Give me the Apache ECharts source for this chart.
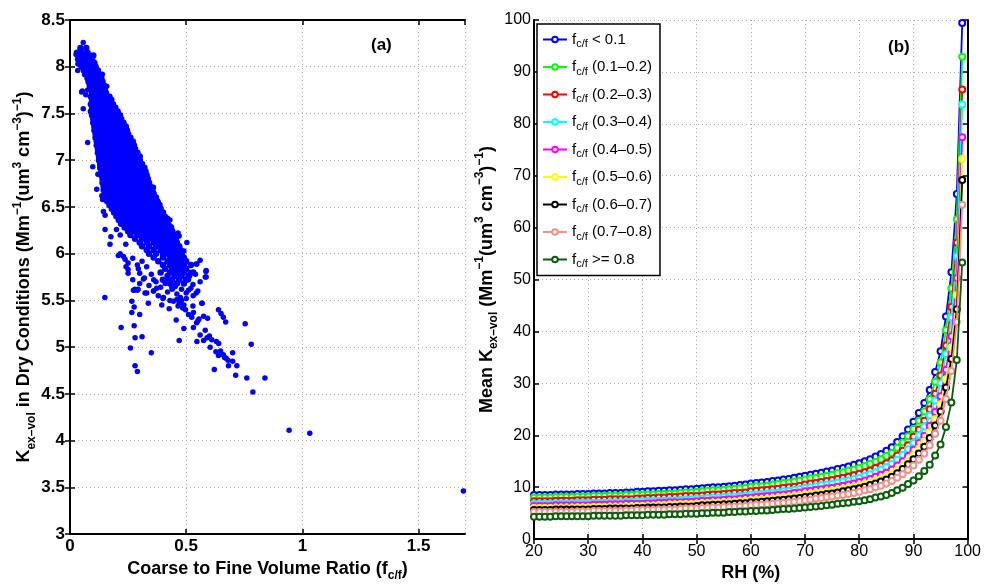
<!DOCTYPE html>
<html><head><meta charset="utf-8">
<script src="https://cdn.jsdelivr.net/npm/echarts@6/dist/echarts.min.js"></script>
<style>html,body{margin:0;padding:0;background:#fff}#c{width:984px;height:587px}</style>
</head><body><div id="c"></div>
<script>
// ---------- Panel (b) data ----------
const rh = [20,21,22,23,24,25,26,27,28,29,30,31,32,33,34,35,36,37,38,39,
  40,41,42,43,44,45,46,47,48,49,50,51,52,53,54,55,56,57,58,59,
  60,61,62,63,64,65,66,67,68,69,70,71,72,73,74,75,76,77,78,79,
  80,81,82,83,84,85,86,87,88,89,90,91,92,93,94,95,96,97,98,99];
const kLt01 = [8.5,8.5,8.5,8.5,8.6,8.6,8.6,8.6,8.7,8.7, 8.7,8.8,8.8,8.8,8.9,8.9,8.9,9.0,9.0,9.1,
  9.1,9.2,9.2,9.3,9.3,9.4,9.4,9.5,9.6,9.6, 9.7,9.8,9.9,10.0,10.0,10.1,10.2,10.3,10.4,10.5,
  10.7,10.8,10.9,11.0,11.2,11.3,11.5,11.6,11.8,12.0, 12.2,12.4,12.6,12.8,13.0,13.2,13.5,13.7,14.0,14.3,
  14.6,15.0,15.4,15.9,16.4,17.0,17.7,18.7,19.8,21.1, 22.6,24.3,26.2,28.7,32.2,36.2,42.9,51.4,66.5,99.4];
const k01_02 = [8.0,8.0,8.0,8.0,8.1,8.1,8.1,8.1,8.2,8.2, 8.2,8.3,8.3,8.3,8.4,8.4,8.4,8.5,8.5,8.6,
  8.6,8.6,8.6,8.7,8.7,8.8,8.8,8.9,9.0,9.0, 9.1,9.2,9.3,9.4,9.4,9.5,9.6,9.7,9.8,9.9,
  10.1,10.2,10.2,10.3,10.5,10.6,10.8,10.9,11.1,11.3, 11.5,11.7,11.8,12.0,12.2,12.4,12.7,12.9,13.2,13.4,
  13.7,14.1,14.5,14.9,15.4,16.0,16.6,17.6,18.6,19.8, 21.2,22.8,24.6,27.0,30.3,34.0,40.3,48.3,61.6,92.9];
const k02_03 = [7.3,7.3,7.3,7.3,7.4,7.4,7.4,7.4,7.5,7.5, 7.5,7.6,7.6,7.6,7.7,7.7,7.7,7.7,7.7,7.8,
  7.8,7.9,7.9,8.0,8.0,8.1,8.1,8.2,8.3,8.3, 8.3,8.4,8.5,8.6,8.6,8.7,8.8,8.9,8.9,9.0,
  9.2,9.3,9.4,9.5,9.6,9.7,9.9,10.0,10.1,10.3, 10.5,10.7,10.8,11.0,11.2,11.4,11.6,11.8,12.0,12.3,
  12.6,12.9,13.2,13.7,14.1,14.6,15.2,16.1,17.0,18.1, 19.7,21.1,22.8,25.0,28.0,31.5,37.3,44.7,57.1,86.6];
const k03_04 = [6.8,6.8,6.8,6.8,6.9,6.9,6.9,6.9,7.0,7.0, 7.0,7.0,7.0,7.0,7.1,7.1,7.1,7.2,7.2,7.3,
  7.3,7.4,7.4,7.4,7.4,7.5,7.5,7.6,7.7,7.7, 7.8,7.8,7.9,8.0,8.0,8.1,8.2,8.2,8.3,8.4,
  8.6,8.6,8.7,8.8,9.0,9.0,9.2,9.3,9.5,9.7, 9.9,10.0,10.2,10.4,10.5,10.7,10.9,11.1,11.3,11.6,
  11.8,12.2,12.5,12.9,13.4,13.9,14.5,15.3,16.2,17.3, 18.5,20.0,21.7,23.8,26.7,30.0,35.6,42.7,54.5,83.7];
const k04_05 = [6.4,6.4,6.4,6.4,6.5,6.5,6.5,6.5,6.5,6.5, 6.5,6.6,6.6,6.6,6.7,6.7,6.7,6.8,6.8,6.8,
  6.8,6.9,6.9,7.0,7.0,7.1,7.1,7.1,7.2,7.2, 7.3,7.4,7.4,7.5,7.5,7.6,7.7,7.7,7.8,7.9,
  8.0,8.1,8.2,8.3,8.4,8.5,8.6,8.7,8.9,9.0, 9.2,9.3,9.5,9.6,9.8,9.9,10.1,10.3,10.5,10.7,
  11.0,11.3,11.6,12.0,12.4,12.8,13.4,14.2,15.0,16.0, 17.2,18.5,19.9,21.8,24.5,27.5,32.6,39.1,50.3,77.4];
const k05_06 = [6.0,6.0,6.0,6.0,6.0,6.0,6.0,6.0,6.1,6.1, 6.1,6.2,6.2,6.2,6.2,6.2,6.2,6.3,6.3,6.4,
  6.4,6.4,6.4,6.5,6.5,6.6,6.6,6.7,6.7,6.7, 6.8,6.9,6.9,7.0,7.0,7.1,7.1,7.2,7.3,7.4,
  7.5,7.6,7.6,7.7,7.8,7.9,8.1,8.1,8.3,8.4, 8.6,8.7,8.9,9.0,9.2,9.3,9.5,9.7,9.9,10.1,
  10.3,10.6,10.9,11.3,11.6,12.1,12.6,13.3,14.1,15.1, 16.2,17.4,18.8,20.6,23.1,26.0,30.8,36.9,47.0,73.2];
const k06_07 = [5.6,5.6,5.6,5.6,5.7,5.7,5.7,5.7,5.7,5.7, 5.7,5.8,5.8,5.8,5.9,5.9,5.9,5.9,5.9,6.0,
  6.0,6.1,6.1,6.1,6.1,6.2,6.2,6.3,6.3,6.3, 6.4,6.5,6.5,6.6,6.6,6.7,6.7,6.8,6.9,6.9,
  7.1,7.1,7.2,7.3,7.4,7.5,7.6,7.7,7.8,7.9, 8.1,8.2,8.4,8.5,8.7,8.8,9.0,9.2,9.4,9.6,
  9.8,10.1,10.4,10.7,11.1,11.5,12.0,12.7,13.5,14.4, 15.4,16.5,17.8,19.5,21.9,24.6,29.2,34.7,44.3,69.2];
const k07_08 = [5.2,5.2,5.2,5.2,5.2,5.2,5.2,5.2,5.3,5.3, 5.3,5.4,5.4,5.4,5.4,5.4,5.4,5.5,5.5,5.6,
  5.6,5.6,5.6,5.7,5.7,5.7,5.7,5.8,5.9,5.9, 5.9,6.0,6.0,6.1,6.1,6.2,6.2,6.3,6.3,6.4,
  6.5,6.6,6.6,6.7,6.8,6.9,7.0,7.1,7.2,7.3, 7.5,7.6,7.8,7.9,8.1,8.2,8.4,8.5,8.7,8.9,
  9.1,9.4,9.6,10.0,10.3,10.7,11.2,11.8,12.5,13.3, 14.2,15.3,16.5,18.1,20.3,22.8,27.0,32.4,41.8,64.4];
const kGe08 = [4.3,4.3,4.3,4.3,4.4,4.4,4.4,4.4,4.4,4.4, 4.4,4.5,4.5,4.5,4.5,4.5,4.5,4.6,4.6,4.6,
  4.6,4.7,4.7,4.7,4.7,4.8,4.8,4.8,4.9,4.9, 4.9,5.0,5.0,5.1,5.1,5.1,5.2,5.2,5.3,5.3,
  5.4,5.4,5.5,5.5,5.6,5.7,5.8,5.8,5.9,6.0, 6.1,6.2,6.3,6.4,6.5,6.6,6.8,6.9,7.0,7.2,
  7.3,7.5,7.7,8.0,8.2,8.5,8.9,9.4,9.9,10.6, 11.3,12.1,13.1,14.3,16.1,18.2,21.6,26.3,34.5,53.3];
const groupLabels = ['< 0.1','(0.1–0.2)','(0.2–0.3)','(0.3–0.4)','(0.4–0.5)','(0.5–0.6)','(0.6–0.7)','(0.7–0.8)','>= 0.8'];
const groupValues = [kLt01,k01_02,k02_03,k03_04,k04_05,k05_06,k06_07,k07_08,kGe08];

// ---------- Panel (a) data ----------
// dense core: [y, x, x, ...]
const coreRows = [
[8.20,0.045,0.07],
[8.15,0.03,0.05,0.075],
[8.12,0.04,0.06,0.085,0.10],
[8.08,0.035,0.055,0.075,0.095],
[8.04,0.045,0.065,0.085,0.105],
[8.00,0.05,0.07,0.09,0.11],
[7.96,0.06,0.08,0.10,0.12],
[7.92,0.065,0.085,0.105,0.125],
[7.88,0.075,0.095,0.115,0.135],
[7.84,0.08,0.10,0.12,0.14],
[7.80,0.085,0.105,0.125,0.145],
[7.76,0.09,0.11,0.13,0.15],
[7.72,0.095,0.115,0.135,0.155],
[7.68,0.09,0.11,0.13,0.15,0.17],
[7.64,0.095,0.115,0.135,0.155,0.175],
[7.60,0.09,0.11,0.13,0.15,0.17,0.185],
[7.56,0.095,0.115,0.135,0.155,0.175,0.195],
[7.52,0.09,0.11,0.13,0.15,0.17,0.19,0.205],
[7.48,0.095,0.115,0.135,0.155,0.175,0.195,0.215],
[7.44,0.10,0.12,0.14,0.16,0.18,0.20,0.22],
[7.40,0.10,0.12,0.14,0.16,0.18,0.20,0.22,0.23],
[7.36,0.105,0.125,0.145,0.165,0.185,0.205,0.225,0.24],
[7.32,0.105,0.125,0.145,0.165,0.185,0.205,0.225,0.245],
[7.28,0.11,0.13,0.15,0.17,0.19,0.21,0.23,0.25],
[7.24,0.11,0.13,0.15,0.17,0.19,0.21,0.23,0.25,0.26],
[7.20,0.115,0.135,0.155,0.175,0.195,0.215,0.235,0.255,0.27],
[7.16,0.115,0.135,0.155,0.175,0.195,0.215,0.235,0.255,0.275],
[7.12,0.12,0.14,0.16,0.18,0.20,0.22,0.24,0.26,0.28],
[7.08,0.12,0.14,0.16,0.18,0.20,0.22,0.24,0.26,0.28,0.29],
[7.04,0.125,0.145,0.165,0.185,0.205,0.225,0.245,0.265,0.285,0.30],
[7.00,0.125,0.145,0.165,0.185,0.205,0.225,0.245,0.265,0.285,0.30],
[6.96,0.13,0.15,0.17,0.19,0.21,0.23,0.25,0.27,0.29,0.31],
[6.92,0.13,0.15,0.17,0.19,0.21,0.23,0.25,0.27,0.29,0.31,0.32],
[6.88,0.135,0.155,0.175,0.195,0.215,0.235,0.255,0.275,0.295,0.315,0.325],
[6.84,0.135,0.155,0.175,0.195,0.215,0.235,0.255,0.275,0.295,0.315,0.33],
[6.80,0.14,0.16,0.18,0.20,0.22,0.24,0.26,0.28,0.30,0.32,0.335],
[6.76,0.14,0.16,0.18,0.20,0.22,0.24,0.26,0.28,0.30,0.32,0.34],
[6.72,0.145,0.165,0.185,0.205,0.225,0.245,0.265,0.285,0.305,0.325,0.345],
[6.68,0.145,0.165,0.185,0.205,0.225,0.245,0.265,0.285,0.305,0.325,0.345,0.355],
[6.64,0.15,0.17,0.19,0.21,0.23,0.25,0.27,0.29,0.31,0.33,0.35,0.36],
[6.60,0.155,0.175,0.195,0.215,0.235,0.255,0.275,0.295,0.315,0.335,0.355,0.37],
[6.56,0.16,0.18,0.20,0.22,0.24,0.26,0.28,0.30,0.32,0.34,0.36,0.375],
[6.52,0.17,0.19,0.21,0.23,0.25,0.27,0.29,0.31,0.33,0.35,0.37,0.385],
[6.48,0.18,0.20,0.22,0.24,0.26,0.28,0.30,0.32,0.34,0.36,0.38,0.39],
[6.44,0.19,0.21,0.23,0.25,0.27,0.29,0.31,0.33,0.35,0.37,0.39,0.40],
[6.40,0.20,0.22,0.24,0.26,0.28,0.30,0.32,0.34,0.36,0.38,0.40],
[6.36,0.21,0.235,0.255,0.275,0.295,0.315,0.335,0.355,0.375,0.395,0.415],
[6.32,0.22,0.245,0.265,0.285,0.305,0.325,0.345,0.365,0.385,0.405,0.42],
[6.28,0.235,0.26,0.28,0.30,0.32,0.34,0.36,0.38,0.40,0.42,0.435],
[6.24,0.25,0.275,0.30,0.32,0.34,0.36,0.38,0.40,0.42,0.44],
[6.20,0.26,0.29,0.31,0.33,0.35,0.37,0.39,0.41,0.43,0.45],
[6.16,0.28,0.31,0.33,0.35,0.37,0.39,0.41,0.43,0.455],
[6.12,0.30,0.33,0.36,0.38,0.40,0.42,0.44,0.46],
[6.08,0.31,0.34,0.37,0.39,0.41,0.43,0.45,0.47],
[6.04,0.33,0.36,0.39,0.41,0.43,0.45,0.475],
[6.00,0.34,0.37,0.40,0.42,0.44,0.46,0.48],
[5.96,0.36,0.40,0.43,0.45,0.47,0.49],
[5.92,0.38,0.42,0.44,0.46,0.48,0.50],
[5.88,0.40,0.43,0.45,0.47,0.49,0.52],
[5.84,0.41,0.44,0.46,0.48,0.50],
[5.80,0.39,0.43,0.45,0.47,0.49,0.53],
[5.76,0.42,0.45,0.48,0.51],
[5.72,0.40,0.44,0.47,0.50],
[5.68,0.43,0.46,0.49]
];
// scattered points: [x, y]
const sparsePts = [
[0.057,8.26],[0.026,8.13],[0.034,8.03],[0.033,7.96],[0.139,7.92],[0.158,7.79],[0.053,7.74],[0.076,7.75],
[0.068,7.70],[0.05,7.73],[0.057,7.55],[0.076,7.19],[0.18,7.65],[0.194,7.56],[0.098,6.93],[0.115,6.69],
[0.12,6.85],[0.14,6.58],[0.144,6.45],[0.151,6.26],[0.137,6.62],[0.151,6.41],[0.172,6.10],[0.176,6.18],
[0.20,6.26],[0.216,6.20],[0.24,6.10],[0.216,6.00],[0.208,5.98],[0.237,5.94],[0.241,5.86],[0.25,5.83],
[0.294,5.84],[0.316,5.73],[0.36,5.72],[0.417,5.73],[0.474,5.77],[0.517,5.80],[0.546,5.89],[0.56,5.93],
[0.586,5.82],[0.582,5.75],[0.273,5.61],[0.29,5.61],
[0.30,6.93],[0.32,6.87],[0.359,6.71],[0.345,6.71],[0.374,6.55],[0.38,6.55],[0.36,6.57],[0.385,6.40],
[0.41,6.40],[0.43,6.36],[0.42,6.38],[0.43,6.30],[0.465,6.22],[0.47,6.19],[0.503,6.12],[0.49,6.03],
[0.585,5.81],[0.309,6.94],
[0.23,5.97],[0.25,5.90],[0.27,5.95],[0.29,5.88],[0.31,5.92],[0.33,5.86],[0.30,5.79],[0.32,5.74],
[0.35,5.78],[0.37,5.70],[0.34,5.66],[0.39,5.64],[0.41,5.68],[0.36,5.60],[0.30,5.68],[0.27,5.72],
[0.25,5.79],[0.28,5.62],[0.33,5.58],[0.38,5.55],[0.42,5.59],[0.44,5.62],[0.46,5.57],[0.45,5.66],
[0.48,5.62],[0.50,5.58],[0.52,5.63],[0.53,5.55],[0.55,5.60],[0.56,5.70],[0.54,5.78],[0.51,5.72],
[0.40,5.52],[0.43,5.50],[0.543,5.89],[0.586,5.75],[0.515,5.76],[0.529,5.67],[0.51,5.61],[0.543,5.58],
[0.15,5.53],[0.22,5.21],[0.26,4.99],[0.28,4.80],[0.29,4.74],[0.35,4.94],[0.47,5.07],[0.49,5.20],
[0.457,5.29],[0.28,5.10],[0.31,5.11],[0.30,5.35],[0.276,5.23],[0.266,5.37],[0.276,5.43],[0.266,5.49],
[0.276,5.61],[0.293,5.62],[0.323,5.58],[0.337,5.47],[0.359,5.60],[0.373,5.63],[0.402,5.53],[0.395,5.45],
[0.427,5.41],[0.438,5.64],[0.453,5.65],[0.445,5.49],
[0.47,5.47],[0.48,5.50],[0.49,5.45],[0.475,5.53],[0.465,5.44],[0.485,5.42],[0.50,5.52],[0.46,5.51],
[0.497,5.40],[0.51,5.35],[0.524,5.32],[0.531,5.21],[0.55,5.28],[0.555,5.30],[0.545,5.26],[0.529,5.44],
[0.531,5.37],[0.569,5.47],[0.575,5.33],[0.592,5.31],[0.567,5.47],
[0.546,5.06],[0.56,5.13],[0.582,5.18],[0.575,5.07],[0.59,5.10],[0.60,5.12],[0.61,5.08],[0.603,5.00],
[0.63,5.06],[0.64,5.04],[0.628,4.95],[0.639,4.91],[0.648,4.96],[0.66,4.92],[0.665,4.89],[0.672,4.88],
[0.68,4.86],[0.682,4.80],[0.70,4.85],[0.70,4.94],[0.718,4.80],[0.713,4.70],[0.761,4.67],[0.787,4.52],
[0.839,4.67],[0.754,5.25],[0.78,5.03],[0.621,4.76],[0.639,5.40],[0.65,5.36],[0.66,5.32],[0.67,5.27],
[0.943,4.11],[1.032,4.08],[1.693,3.46]
];

// ---------- chart ----------
const FONT = '"Liberation Sans", Arial, Helvetica, sans-serif';
const groupColors = ['#0000ff','#00ff00','#ff0000','#00ffff','#ff00ff','#ffff00','#000000','#f4908a','#0b5e0b'];

const coreData = coreRows.flatMap(r => r.slice(1).map(x => [x, r[0]]));

const axLine = {show:true, lineStyle:{color:'#000', width:2}};
const tickIn = {show:true, inside:true, length:5, lineStyle:{color:'#000', width:1.5}};
const gridLn = {show:true, lineStyle:{color:'#aaaaaa', type:[1,3], width:1}};
function richName(size){
  return {
    b:{fontFamily:FONT, fontWeight:'bold', fontSize:size, lineHeight:26, verticalAlign:'middle', color:'#000'},
    sub:{fontFamily:FONT, fontWeight:'bold', fontSize:12, lineHeight:12, verticalAlign:'bottom', color:'#000'},
    sup:{fontFamily:FONT, fontWeight:'bold', fontSize:12, lineHeight:12, verticalAlign:'top', color:'#000'}
  };
}
const labA = {fontFamily:FONT, fontWeight:'bold', fontSize:17, color:'#000'};
const labB = {fontFamily:FONT, fontSize:16, color:'#000'};

const chart = echarts.init(document.getElementById('c'));
chart.setOption({
  animation:false,
  backgroundColor:'#fff',
  title:[
    {text:'(a)', left:371, top:37, padding:0, textStyle:{fontFamily:FONT, fontWeight:'bold', fontSize:17, color:'#000'}},
    {text:'(b)', left:888, top:39, padding:0, textStyle:{fontFamily:FONT, fontWeight:'bold', fontSize:17, color:'#000'}}
  ],
  grid:[
    {left:70, top:20, width:395, height:527},
    {left:534, top:20, width:436, height:527}
  ],
  xAxis:[
    {gridIndex:0, type:'value', min:0, max:1.7, interval:0.5, axisLine:axLine, axisTick:tickIn,
     splitLine:gridLn, axisLabel:Object.assign({margin:4, showMaxLabel:false}, labA),
     name:'{b|Coarse to Fine Volume Ratio (f}{sub|c/f}{b|)}', nameLocation:'middle', nameGap:18,
     nameTextStyle:{rich:richName(18)}},
    {gridIndex:1, type:'value', min:20, max:100, interval:10, axisLine:axLine, axisTick:tickIn,
     splitLine:gridLn, axisLabel:Object.assign({margin:4}, labB),
     name:'{b|RH (%)}', nameLocation:'middle', nameGap:16, nameTextStyle:{rich:richName(18)}},
    {gridIndex:0, type:'value', position:'top', min:0, max:1.7, interval:0.5, axisLine:axLine, axisTick:tickIn,
     splitLine:{show:false}, axisLabel:{show:false}},
    {gridIndex:1, type:'value', position:'top', min:20, max:100, interval:10, axisLine:axLine, axisTick:tickIn,
     splitLine:{show:false}, axisLabel:{show:false}}
  ],
  yAxis:[
    {gridIndex:0, type:'value', min:3, max:8.5, interval:0.5, axisLine:axLine, axisTick:tickIn,
     splitLine:gridLn, axisLabel:Object.assign({margin:5}, labA),
     name:'{b|K}{sub|ex–vol}{b| in Dry Conditions (Mm}{sup|−1}{b|(um}{sup|3}{b| cm}{sup|−3}{b|)}{sup|−1}{b|)}',
     nameLocation:'middle', nameGap:30, nameRotate:90, nameTextStyle:{rich:richName(18)}},
    {gridIndex:1, type:'value', min:0, max:100, interval:10, axisLine:axLine, axisTick:tickIn,
     splitLine:gridLn, axisLabel:Object.assign({margin:3}, labB),
     name:'{b|Mean K}{sub|ex–vol}{b| (Mm}{sup|−1}{b|(um}{sup|3}{b| cm}{sup|−3}{b|)}{sup|−1}{b|)}',
     nameLocation:'middle', nameGap:34, nameRotate:90, nameTextStyle:{rich:richName(18)}},
    {gridIndex:0, type:'value', position:'right', min:3, max:8.5, interval:0.5, axisLine:axLine, axisTick:tickIn,
     splitLine:{show:false}, axisLabel:{show:false}},
    {gridIndex:1, type:'value', position:'right', min:0, max:100, interval:10, axisLine:axLine, axisTick:tickIn,
     splitLine:{show:false}, axisLabel:{show:false}}
  ],
  legend:{
    left:537, top:24, orient:'vertical', itemWidth:24, itemHeight:7, itemGap:10,
    padding:[8,8,6,5], borderColor:'#000', borderWidth:1.5, backgroundColor:'#fff',
    selectedMode:false, data:groupLabels,
    formatter: n => '{f|f}{s|c/f}{t| ' + n + '}',
    textStyle:{rich:{
      f:{fontFamily:FONT, fontSize:15, lineHeight:20, verticalAlign:'middle', color:'#000'},
      s:{fontFamily:FONT, fontSize:11, lineHeight:11, verticalAlign:'bottom', color:'#000'},
      t:{fontFamily:FONT, fontSize:15, lineHeight:20, verticalAlign:'middle', color:'#000'}
    }}
  },
  series:[
    {type:'scatter', xAxisIndex:0, yAxisIndex:0, data:coreData, symbolSize:6.5,
     itemStyle:{color:'#0000ff', opacity:1}, silent:true},
    {type:'scatter', xAxisIndex:0, yAxisIndex:0, data:sparsePts, symbolSize:5.5,
     itemStyle:{color:'#0000ff', opacity:1}, silent:true}
  ].concat(groupValues.map((vals, i) => ({
    type:'line', name:groupLabels[i], xAxisIndex:1, yAxisIndex:1,
    data: rh.map((x, j) => [x, vals[j]]),
    symbol:'emptyCircle', symbolSize:6, showSymbol:true,
    lineStyle:{color:groupColors[i], width:1.8},
    itemStyle:{color:groupColors[i], borderColor:groupColors[i], borderWidth:1.6},
    z: 2 + i * 0.01
  })))
});
</script>
</body></html>
